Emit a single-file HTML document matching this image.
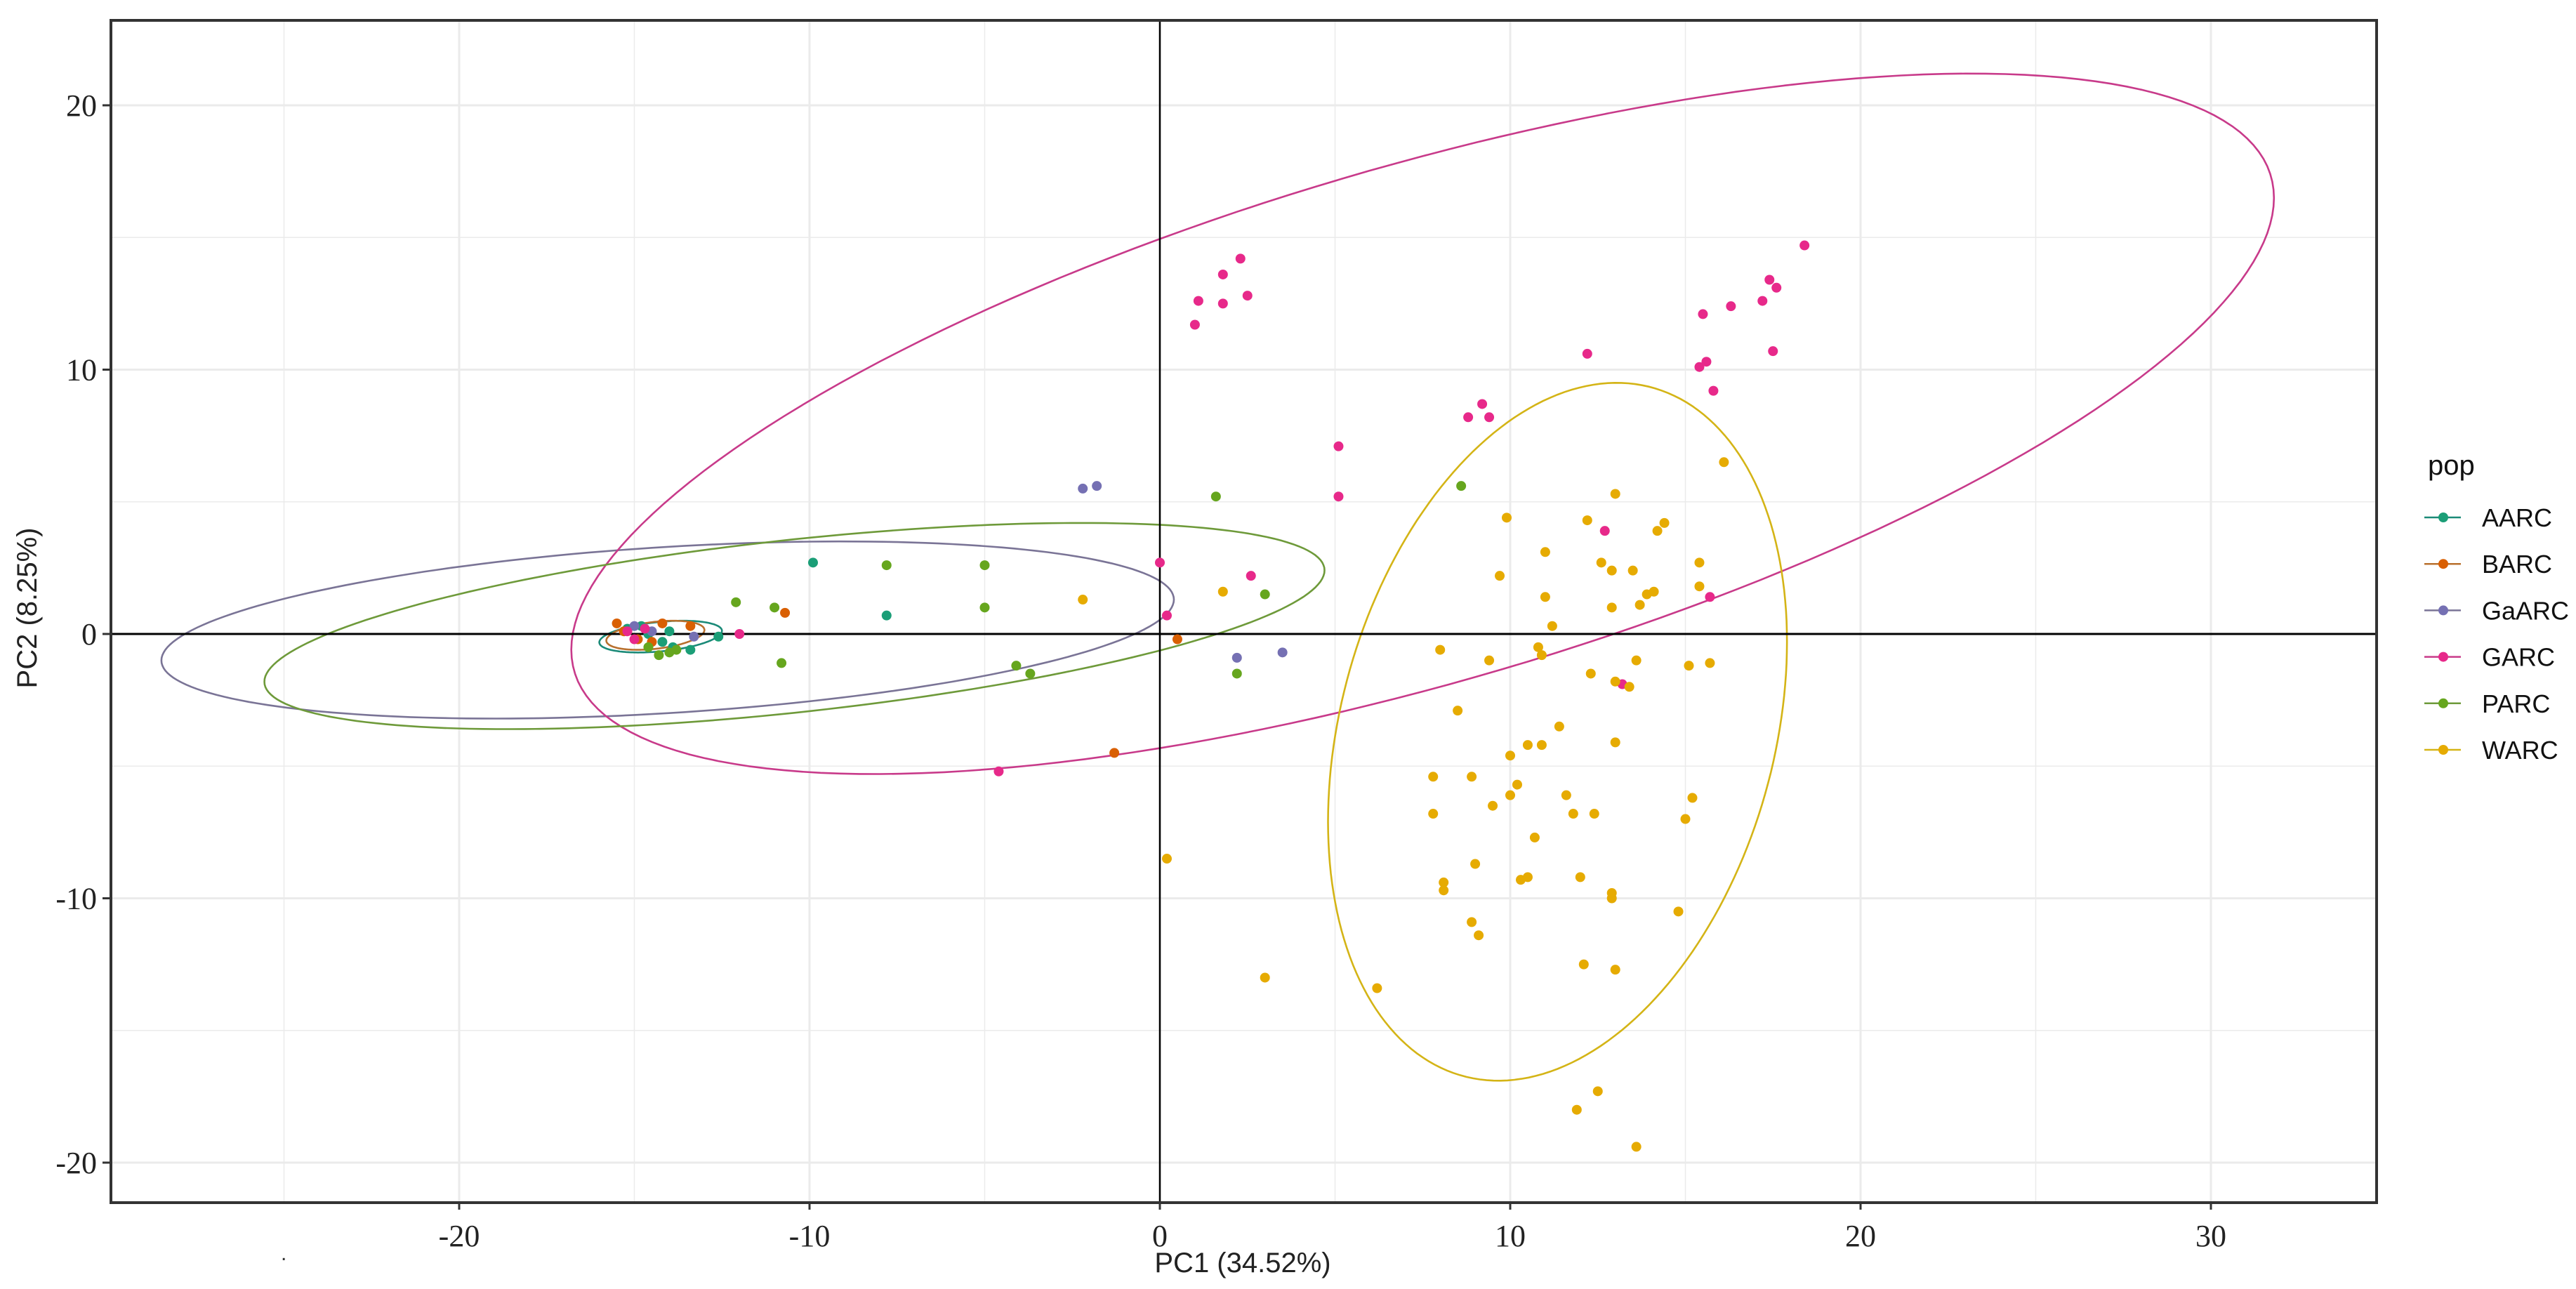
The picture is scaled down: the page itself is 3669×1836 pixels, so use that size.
<!DOCTYPE html>
<html><head><meta charset="utf-8"><style>
html,body{margin:0;padding:0;background:#fff}
svg{display:block}
</style></head><body>
<svg id="chart" width="3669" height="1836" xmlns="http://www.w3.org/2000/svg">
<rect x="0" y="0" width="3669" height="1836" fill="#fff"/>
<g id="grid"></g>
<g id="ellipses"></g>
<g id="refs"></g>
<g id="points"></g>
<rect x="158" y="29" width="3227" height="1684" fill="none" stroke="#333" stroke-width="4"/>
<g id="axes"></g>
<text x="1770" y="1812" font-family="Liberation Sans, sans-serif" font-size="40" text-anchor="middle" fill="#222">PC1 (34.52%)</text>
<text transform="translate(52,866) rotate(-90)" font-family="Liberation Sans, sans-serif" font-size="40" text-anchor="middle" fill="#222">PC2 (8.25%)</text>
<text x="400" y="1795" font-family="Liberation Sans, sans-serif" font-size="30" fill="#333">.</text>
<g id="legend">
<text x="3458" y="676" font-family="Liberation Sans, sans-serif" font-size="40" fill="#111">pop</text>
</g>
</svg>
<script>
const groups = ["AARC","BARC","GaARC","GARC","PARC","WARC"];
const colors = ["#1b9e77","#d95f02","#7570b3","#e7298a","#66a61e","#e6ab02"];
const ellipseColors = ["#1b8a78","#b8702e","#7a7496","#c83a8a","#6e9a3a","#d4b416"];
const xTicks = [-20,-10,0,10,20,30];
const yTicks = [-20,-10,0,10,20];

const aarcX = [-9.9,-7.8,-12.6,-13.4,-13.9,-14.2,-14.6,-15.2,-14.8,-14.0];
const aarcY = [2.7,0.7,-0.1,-0.6,-0.5,-0.3,0.0,0.2,0.3,0.1];
const barcX = [-10.7,0.5,-1.3,-13.4,-14.2,-15.5,-14.9,-15.3,-14.5];
const barcY = [0.8,-0.2,-4.5,0.3,0.4,0.4,-0.2,0.1,-0.3];
const gaarcX = [-2.2,-1.8,2.2,3.5,-13.3,-15.0,-14.5];
const gaarcY = [5.5,5.6,-0.9,-0.7,-0.1,0.3,0.1];
const garcX = [1.0,1.1,1.8,1.8,2.3,2.5,5.1,5.1,8.8,9.2,9.4,12.2,12.7,13.2,15.5,15.4,15.6,16.3,15.8,17.2,17.4,17.6,17.5,18.4,15.7,2.6,0.0,0.2,-4.6,-12.0,-15.0,-14.7,-15.2];
const garcY = [11.7,12.6,12.5,13.6,14.2,12.8,7.1,5.2,8.2,8.7,8.2,10.6,3.9,-1.9,12.1,10.1,10.3,12.4,9.2,12.6,13.4,13.1,10.7,14.7,1.4,2.2,2.7,0.7,-5.2,0.0,-0.2,0.2,0.1];
const parcX = [1.6,8.6,3.0,2.2,-4.1,-3.7,-5.0,-5.0,-7.8,-11.0,-12.1,-10.8,-14.3,-14.0,-13.8,-14.6];
const parcY = [5.2,5.6,1.5,-1.5,-1.2,-1.5,2.6,1.0,2.6,1.0,1.2,-1.1,-0.8,-0.7,-0.6,-0.5];
const warcX = [-2.2,0.2,1.8,3.0,6.2,7.8,7.8,8.0,8.1,8.1,8.5,8.9,8.9,9.1,9.0,9.4,9.5,9.7,9.9,10.0,10.0,10.2,10.3,10.5,10.5,10.7,10.8,10.9,10.9,11.0,11.0,11.2,11.4,11.6,11.8,12.0,12.1,12.2,12.3,12.4,12.6,12.9,12.9,12.9,12.9,13.0,13.0,13.0,13.0,13.4,13.6,13.5,13.7,13.9,14.1,14.2,14.4,14.8,15.0,15.2,15.1,15.4,15.4,15.7,16.1,11.9,12.5,13.6];
const warcY = [1.3,-8.5,1.6,-13.0,-13.4,-5.4,-6.8,-0.6,-9.4,-9.7,-2.9,-5.4,-10.9,-11.4,-8.7,-1.0,-6.5,2.2,4.4,-6.1,-4.6,-5.7,-9.3,-9.2,-4.2,-7.7,-0.5,-0.8,-4.2,3.1,1.4,0.3,-3.5,-6.1,-6.8,-9.2,-12.5,4.3,-1.5,-6.8,2.7,-10.0,-9.8,1.0,2.4,-4.1,5.3,-12.7,-1.8,-2.0,-1.0,2.4,1.1,1.5,1.6,3.9,4.2,-10.5,-7.0,-6.2,-1.2,1.8,2.7,-1.1,6.5,-18.0,-17.3,-19.4];

// ellipse parameters: x = cx + A cos t, y = cy + B cos(t - phi)
const ellCx = [-14.25,-14.4,-14.05,7.5,-10.43,11.35];
const ellA  = [1.75,1.4,14.45,24.3,15.13,6.55];
const ellCy = [-0.1,-0.05,0.15,7.95,0.3,-3.7];
const ellB  = [0.6,0.55,3.35,13.25,3.9,13.2];
const ellPhi= [1.2,1.2,1.22,0.87,1.0,1.31];

const SX = [aarcX,barcX,gaarcX,garcX,parcX,warcX];
const SY = [aarcY,barcY,gaarcY,garcY,parcY,warcY];

const L=158,R=3385,T=29,B=1713;
function xs(v){return 1652 + v*49.9;}
function ys(v){return 903 - v*37.65;}
const NS="http://www.w3.org/2000/svg";
function mk(tag,attrs,parent){const e=document.createElementNS(NS,tag);for(const k in attrs)e.setAttribute(k,attrs[k]);parent.appendChild(e);return e;}

const grid=document.getElementById('grid');
for(let v=-30;v<=35;v+=5){const x=xs(v);if(x<L||x>R)continue;
 const ln=mk('line',{x1:x,x2:x,y1:T,y2:B,stroke:'#ebebeb','stroke-width':v%10===0?3:1.5},grid);
 
 }
for(let v=-25;v<=25;v+=5){const y=ys(v);if(y<T||y>B)continue;
 const ln=mk('line',{x1:L,x2:R,y1:y,y2:y,stroke:'#ebebeb','stroke-width':v%10===0?3:1.5},grid);
 
 }

const eg=document.getElementById('ellipses');
for(let g=0;g<groups.length;g++){
 let d='';
 for(let i=0;i<=200;i++){const t=i/200*2*Math.PI;
  const x=xs(ellCx[g]+ellA[g]*Math.cos(t)), y=ys(ellCy[g]+ellB[g]*Math.cos(t-ellPhi[g]));
  d+=(i?'L':'M')+x.toFixed(1)+','+y.toFixed(1);}
 const p=mk('path',{d:d+'Z',fill:'none',stroke:ellipseColors[g],'stroke-width':2.6},eg);
 
 
}

const refs=document.getElementById('refs');
const h=mk('line',{x1:L,x2:R,y1:ys(0),y2:ys(0),stroke:'#000','stroke-width':3},refs);


const v0=mk('line',{x1:xs(0),x2:xs(0),y1:T,y2:B,stroke:'#000','stroke-width':2.5},refs);



const pg=document.getElementById('points');
for(let g=0;g<groups.length;g++){
 for(let i=0;i<SX[g].length;i++){
  const c=mk('circle',{cx:xs(SX[g][i]),cy:ys(SY[g][i]),r:7,fill:colors[g]},pg);
  
  
 }
}

const ax=document.getElementById('axes');
xTicks.forEach(v=>{const x=xs(v);
 const tk=mk('line',{x1:x,x2:x,y1:B,y2:B+10,stroke:'#333','stroke-width':3},ax);
 
 
 const t=mk('text',{x:x,y:B+62,'font-family':'Liberation Serif, serif','font-size':44,'text-anchor':'middle',fill:'#222'},ax);
 t.textContent=String(v);
 
 });
yTicks.forEach(v=>{const y=ys(v);
 const tk=mk('line',{x1:L-12,x2:L,y1:y,y2:y,stroke:'#333','stroke-width':3},ax);
 
 
 const t=mk('text',{x:L-20,y:y+15,'font-family':'Liberation Serif, serif','font-size':44,'text-anchor':'end',fill:'#222'},ax);
 t.textContent=String(v);
 
 });

const lg=document.getElementById('legend');
for(let g=0;g<groups.length;g++){const y=737+g*66.2;
 const ln=mk('line',{x1:3453,x2:3505,y1:y,y2:y,stroke:ellipseColors[g],'stroke-width':2.5},lg);
 
 
 const c=mk('circle',{cx:3480,cy:y,r:7,fill:colors[g]},lg);
 
 
 const t=mk('text',{x:3535,y:y+13,'font-family':'Liberation Sans, sans-serif','font-size':36,fill:'#111'},lg);
 t.textContent=groups[g];
 
 }
</script>
</body></html>
